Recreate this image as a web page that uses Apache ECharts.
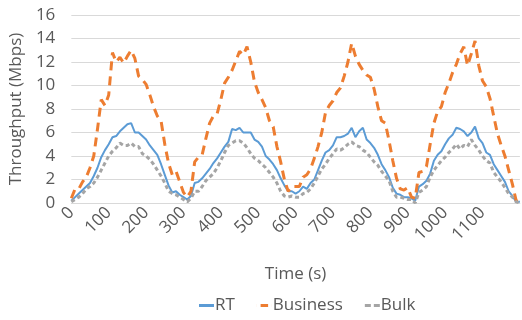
<!DOCTYPE html>
<html>
<head>
<meta charset="utf-8">
<script src="https://cdn.jsdelivr.net/npm/echarts@6/dist/echarts.min.js"></script>
<style>
  html, body { margin: 0; padding: 0; background: #fff; }
  #chart { width: 522px; height: 320px; }
</style>
</head>
<body>
<div id="chart"></div>
<script>
// time stamps (s), one every 10 s
const times = [];
for (let t = 0; t <= 1200; t += 10) times.push(t);

const rt = [
  0.2, 0.5, 0.8, 1.1, 1.4, 1.7, 2.3, 3.0, 3.9, 4.5,
  5.0, 5.6, 5.7, 6.1, 6.4, 6.7, 6.8, 6.0, 6.0, 5.7,
  5.4, 4.9, 4.5, 4.1, 3.3, 2.4, 1.5, 0.9, 1.0, 0.7,
  0.5, 0.3, 0.6, 1.7, 1.8, 2.1, 2.5, 2.9, 3.4, 3.8,
  4.3, 4.8, 5.2, 6.3, 6.2, 6.4, 6.0, 6.0, 6.0, 5.4,
  5.2, 4.8, 4.0, 3.7, 3.3, 2.8, 2.1, 1.5, 1.0, 1.0,
  0.8, 1.0, 1.4, 1.2, 1.7, 2.0, 2.8, 3.6, 4.3, 4.5,
  4.9, 5.6, 5.6, 5.7, 5.9, 6.4, 5.6, 6.1, 6.4, 5.4,
  5.1, 4.7, 4.1, 3.3, 2.8, 2.2, 1.3, 0.8, 0.7, 0.5,
  0.5, 0.4, 0.2, 1.4, 1.6, 1.9, 2.5, 3.6, 4.1, 4.4,
  5.0, 5.5, 5.8, 6.4, 6.3, 6.1, 5.7, 6.0, 6.5, 5.5,
  5.1, 4.3, 4.1, 3.3, 2.8, 2.3, 1.8, 1.0, 0.6, 0.1,
  0.1
];

const business = [
  0.4, 1.2, 1.2, 1.8, 2.2, 3.0, 4.0, 6.3, 8.8, 8.3,
  9.2, 12.8, 12.0, 12.4, 11.9, 12.5, 13.0, 12.3, 10.8, 10.5,
  10.1, 9.2, 8.2, 7.4, 7.0, 5.0, 3.4, 2.4, 2.7, 1.8,
  0.9, 0.5, 1.0, 3.5, 3.9, 4.1, 5.5, 6.8, 7.4, 7.6,
  8.8, 10.2, 10.7, 11.3, 12.1, 12.9, 12.6, 13.3, 12.0, 10.3,
  9.4, 8.8, 8.1, 7.0, 6.5, 4.8, 3.5, 2.0, 1.0, 1.4,
  1.4, 1.4, 2.2, 2.4, 2.9, 3.8, 4.8, 6.0, 7.7, 8.3,
  8.7, 9.4, 9.8, 10.8, 12.0, 13.6, 12.5, 11.8, 11.3, 10.9,
  10.7, 9.7, 8.2, 7.0, 6.8, 5.3, 3.6, 2.1, 1.2, 1.1,
  1.3, 0.5, 0.4, 2.6, 2.7, 3.1, 5.0, 6.8, 7.8, 8.2,
  9.4, 10.2, 11.1, 11.8, 12.7, 13.3, 11.7, 12.7, 13.8, 11.7,
  10.4, 9.9, 8.9, 7.4, 5.9, 4.9, 4.0, 2.8, 1.6, 0.2,
  0.1
];

const bulk = [
  0.1, 0.3, 0.5, 0.8, 1.2, 1.4, 1.7, 2.2, 2.8, 3.4,
  4.0, 4.4, 4.7, 5.1, 4.9, 4.9, 5.1, 4.8, 4.8, 4.2,
  4.0, 3.7, 3.3, 2.8, 2.3, 1.7, 1.0, 0.8, 0.7, 0.5,
  0.3, 0.1, 0.4, 1.0, 1.0, 1.4, 1.9, 2.2, 2.5, 3.0,
  3.6, 4.3, 4.9, 5.1, 5.3, 5.3, 5.1, 4.7, 4.2, 3.8,
  3.6, 3.3, 3.0, 2.6, 2.2, 1.7, 1.0, 0.6, 0.5, 0.6,
  0.5, 0.5, 0.8, 0.9, 1.2, 1.7, 2.3, 2.9, 3.3, 3.8,
  4.2, 4.6, 4.5, 4.7, 5.0, 5.2, 4.9, 4.8, 4.5, 4.3,
  3.9, 3.5, 3.2, 2.7, 2.3, 1.9, 1.0, 0.5, 0.5, 0.4,
  0.3, 0.3, 0.0, 0.9, 1.1, 1.4, 2.2, 2.8, 3.2, 3.6,
  3.9, 4.3, 4.6, 5.0, 4.6, 4.9, 4.8, 5.4, 4.9, 4.5,
  4.0, 3.6, 3.4, 2.6, 2.2, 1.8, 1.3, 0.8, 0.5, 0.1,
  0.0
];

const txt = '#595959';
const font = '"Open Sans", sans-serif';
const fs = 17;
const colors = { RT: '#5b9bd5', Business: '#ed7d31', Bulk: '#a5a5a5' };

function pairs(vals) {
  return vals.map((v, i) => [times[i], v]);
}

const chart = echarts.init(document.getElementById('chart'));
chart.setOption({
  animation: false,
  textStyle: { fontFamily: font },
  grid: { left: 71, right: 1, top: 15, bottom: 117, containLabel: false },
  legend: {
    bottom: 1,
    left: 194,
    itemWidth: 15,
    itemHeight: 3,
    itemGap: 22,
    textStyle: { color: txt, fontSize: fs, fontFamily: font, padding: [0, 0, 0, -4] },
    data: [
      { name: 'RT', icon: 'rect', itemStyle: { color: colors.RT } },
      {
        name: 'Business',
        icon: 'path://M0,0h0.05v3h-0.05zM4,0h8v3h-8zM15.95,0h0.05v3h-0.05z',
        itemStyle: { color: colors.Business }
      },
      {
        name: 'Bulk',
        icon: 'path://M0,0h6v3h-6zM9,0h6v3h-6z',
        itemStyle: { color: colors.Bulk }
      }
    ]
  },
  xAxis: {
    type: 'value',
    min: 0,
    max: 1200,
    interval: 100,
    name: 'Time (s)',
    nameLocation: 'middle',
    nameGap: 63,
    nameTextStyle: { color: txt, fontSize: fs },
    axisLine: { show: true, lineStyle: { color: '#d9d9d9' } },
    axisTick: { show: false },
    splitLine: { show: false },
    axisLabel: {
      rotate: 45,
      color: txt,
      fontSize: fs,
      margin: 7,
      formatter: v => (v >= 1200 ? '' : String(v))
    }
  },
  yAxis: {
    type: 'value',
    min: 0,
    max: 16,
    interval: 2,
    name: 'Throughput (Mbps)',
    nameLocation: 'middle',
    nameGap: 44,
    nameTextStyle: { color: txt, fontSize: fs },
    axisLine: { show: false },
    axisTick: { show: false },
    axisLabel: { color: txt, fontSize: fs, margin: 16 },
    splitLine: { lineStyle: { color: '#d9d9d9', width: 1 } }
  },
  series: [
    {
      name: 'RT',
      type: 'line',
      data: pairs(rt),
      showSymbol: false,
      symbol: 'none',
      lineStyle: { color: colors.RT, width: 2 },
      itemStyle: { color: colors.RT }
    },
    {
      name: 'Business',
      type: 'line',
      data: pairs(business),
      showSymbol: false,
      symbol: 'none',
      lineStyle: { color: colors.Business, width: 3, type: [9, 6] },
      itemStyle: { color: colors.Business }
    },
    {
      name: 'Bulk',
      type: 'line',
      data: pairs(bulk),
      showSymbol: false,
      symbol: 'none',
      lineStyle: { color: colors.Bulk, width: 3, type: [4, 3] },
      itemStyle: { color: colors.Bulk }
    }
  ]
});
</script>
</body>
</html>
